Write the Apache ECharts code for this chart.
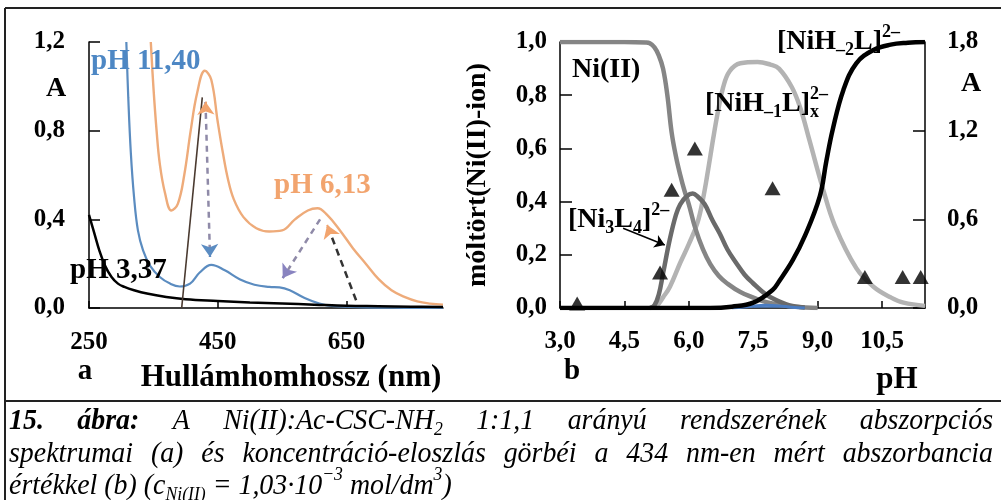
<!DOCTYPE html>
<html><head><meta charset="utf-8">
<script src="https://cdn.jsdelivr.net/npm/echarts@6/dist/echarts.min.js"></script>
<style>html,body{margin:0;padding:0;background:#fff}#c{width:1001px;height:500px}</style>
</head><body><div id="c"></div>
<script>
// ---------- DATA ----------
// (a) absorption spectra: wavelength (nm) and absorbance
const wl_pH337 = [250, 258, 266, 275, 285, 295, 305, 320, 340, 370, 400, 450, 500, 550, 600, 650, 700, 750, 800];
const A_pH337  = [0.42, 0.34, 0.26, 0.19, 0.14, 0.11, 0.095, 0.08, 0.065, 0.05, 0.04, 0.032, 0.025, 0.02, 0.015, 0.01, 0.008, 0.006, 0.005];

const wl_pH1140 = [308, 311, 315, 320, 326, 334, 345, 360, 376, 391, 407, 422, 440, 461, 484, 507, 530, 546, 562, 585, 608, 631, 680, 740, 800];
const A_pH1140  = [1.2, 0.95, 0.7, 0.5, 0.35, 0.26, 0.19, 0.14, 0.11, 0.097, 0.11, 0.16, 0.195, 0.17, 0.13, 0.105, 0.095, 0.093, 0.08, 0.045, 0.02, 0.008, 0.003, 0.001, 0];

const wl_pH613 = [346, 350, 355, 360, 368, 378, 388, 398, 408, 418, 430, 440, 450, 458, 466, 475, 490, 510, 530, 550, 570, 590, 605, 620, 640, 660, 680, 700, 720, 740, 760, 780, 800];
const A_pH613  = [1.2, 1.0, 0.8, 0.65, 0.52, 0.44, 0.47, 0.6, 0.8, 0.97, 1.07, 1.03, 0.84, 0.7, 0.58, 0.49, 0.41, 0.36, 0.345, 0.35, 0.4, 0.44, 0.45, 0.42, 0.35, 0.27, 0.2, 0.13, 0.08, 0.05, 0.03, 0.02, 0.015];

const wl_steep = [394, 426];
const A_steep  = [0, 0.95];

// annotation arrows (data coordinates: [nm, A])
const arrowVertical = [[431, 0.93], [438, 0.23]];   // orange head top, blue head bottom
const arrowDiagonal = [[609, 0.40], [551, 0.135]];  // purple dashed, head at lower-left
const arrowDark     = [[665, 0.035], [620, 0.375]]; // dark dashed, orange head at top

// (b) distribution curves: pH and mole fraction
const pH_NiII = [3.0, 4.5, 5.0, 5.09, 5.2, 5.3, 5.4, 5.5, 5.6, 5.7, 5.8, 5.9, 6.0, 6.15, 6.33, 6.5, 6.7, 6.88, 7.2, 7.65, 8.0, 8.5, 9.0];
const x_NiII  = [1.0, 1.0, 0.998, 0.995, 0.98, 0.95, 0.9, 0.8, 0.66, 0.57, 0.5, 0.44, 0.39, 0.3, 0.22, 0.165, 0.12, 0.094, 0.06, 0.03, 0.015, 0.005, 0];

const pH_NiH1L = [5.1, 5.26, 5.4, 5.56, 5.8, 6.0, 6.2, 6.33, 6.45, 6.56, 6.68, 6.8, 6.95, 7.2, 7.6, 7.9, 8.1, 8.4, 8.6, 8.81, 9.12, 9.4, 9.9, 10.3, 10.7, 11.0, 11.5];
const x_NiH1L  = [0, 0.01, 0.04, 0.08, 0.17, 0.24, 0.32, 0.41, 0.52, 0.63, 0.74, 0.83, 0.89, 0.92, 0.925, 0.915, 0.9, 0.83, 0.75, 0.63, 0.45, 0.31, 0.15, 0.08, 0.04, 0.02, 0.008];

const pH_Ni3L4 = [5.1, 5.2, 5.3, 5.4, 5.56, 5.7, 5.8, 5.95, 6.09, 6.2, 6.37, 6.55, 6.72, 6.9, 7.1, 7.3, 7.49, 7.8, 8.1, 8.35, 8.7];
const x_Ni3L4  = [0, 0.01, 0.05, 0.13, 0.26, 0.35, 0.39, 0.42, 0.43, 0.42, 0.39, 0.33, 0.28, 0.22, 0.17, 0.125, 0.094, 0.05, 0.025, 0.01, 0.002];

const pH_NiH2L = [3.0, 6.5, 7.0, 7.5, 7.95, 8.1, 8.42, 8.7, 9.05, 9.2, 9.35, 9.6, 9.9, 10.3, 10.7, 11.1, 11.5];
const x_NiH2L  = [0, 0, 0.005, 0.02, 0.068, 0.1, 0.18, 0.27, 0.42, 0.55, 0.67, 0.82, 0.92, 0.97, 0.99, 0.997, 1.0];

const pH_minor = [7.0, 7.4, 7.8, 8.1, 8.4, 8.7];
const x_minor  = [0, 0.006, 0.01, 0.008, 0.003, 0];

// absorbance at 434 nm (right axis)
const pH_A434 = [3.4, 5.33, 5.6, 6.14, 7.95, 10.1, 10.98, 11.4];
const A_434   = [0.03, 0.24, 0.80, 1.08, 0.81, 0.21, 0.21, 0.21];

const labelArrow = [[4.47, 0.30], [5.44, 0.237]];

// axis ticks
const wlTicks = [250, 450, 650];

// ---------- helpers ----------
const FONT = '"Liberation Serif", "Times New Roman", serif';
const zip = (a, b) => a.map((v, i) => [v, b[i]]);
const comma1 = v => v.toFixed(1).replace('.', ',');
const ctx2d = document.createElement('canvas').getContext('2d');
const fstr = (size, weight, style) => (style || 'normal') + ' ' + (weight || 'bold') + ' ' + size + 'px ' + FONT;
const measure = (t, f) => { ctx2d.font = f; return ctx2d.measureText(t).width; };

function runLayout(segs, o) {
  const S = o.size, s = o.small || Math.round(S * 0.62), sx = o.sx || 1;
  let cx = 0; const items = [];
  segs.forEach(sg => {
    const k = sg.k || 'n';
    const size = k === 'n' ? S : s;
    const dy = k === 'sub' ? 0.3 * S : (k === 'sup' ? -0.36 * S : 0);
    const f = fstr(size, sg.w || o.weight, sg.st || o.style);
    const w = measure(sg.t, f) * sx;
    items.push({ t: sg.t, f, x: cx, dy });
    if (!sg.noAdv) cx += w;
  });
  return { items, width: cx };
}
function runEls(segs, x, yc, o) {
  const L = runLayout(segs, o);
  let x0 = x;
  if (o.align === 'center') x0 = x - L.width / 2;
  else if (o.align === 'right') x0 = x - L.width;
  return L.items.map(it => ({
    type: 'text', silent: true, z: 100, x: x0 + it.x, y: yc + it.dy, scaleX: o.sx || 1,
    style: { text: it.t, font: it.f, fill: o.color || '#000', align: 'left', verticalAlign: 'middle',
             textAlign: 'left', textVerticalAlign: 'middle' }
  }));
}
function justify(words, L, R, yc, o) {
  const ws = words.map(w => runLayout(w, o).width);
  const total = ws.reduce((a, b) => a + b, 0);
  const gap = (R - L - total) / (words.length - 1);
  let x = L; const els = [];
  words.forEach((w, i) => { els.push(...runEls(w, x, yc, o)); x += ws[i] + gap; });
  return els;
}
function headNear(tip, tail, f) { return [tip[0] + (tail[0] - tip[0]) * f, tip[1] + (tail[1] - tip[1]) * f]; }
function seg(p0, p1, color, width, type, s0, s1, size) {
  return [
    { coord: p0, symbol: s0 || 'none', symbolSize: size || 12 },
    { coord: p1, symbol: s1 || 'none', symbolSize: size || 12, lineStyle: { color, width, type: type || 'solid' } }
  ];
}

// ---------- graphics (texts & frame) ----------
const G = [];
const frame = { stroke: '#222', lineWidth: 2 };
G.push({ type: 'line', silent: true, shape: { x1: 5, y1: 8, x2: 1001, y2: 8 }, style: frame });
G.push({ type: 'line', silent: true, shape: { x1: 5, y1: 8, x2: 5, y2: 500 }, style: frame });
G.push({ type: 'line', silent: true, shape: { x1: 5, y1: 401, x2: 1001, y2: 401 }, style: frame });

const BLUE = '#4d87c4', ORANGE = '#f2a46e';
// panel a
G.push(...runEls([{ t: 'pH 11,40' }], 91, 62, { size: 29, color: BLUE }));
G.push(...runEls([{ t: 'pH 6,13' }], 274, 186, { size: 29, color: ORANGE }));
G.push(...runEls([{ t: 'pH 3,37' }], 70, 271, { size: 29, color: '#000' }));
G.push(...runEls([{ t: 'A' }], 56, 89, { size: 28, align: 'center' }));
G.push(...runEls([{ t: 'a' }], 85, 372, { size: 29, align: 'center' }));
G.push(...runEls([{ t: 'Hullámhomhossz (nm)' }], 291, 378, { size: 31, align: 'center' }));
// panel b
G.push(...runEls([{ t: 'A' }], 971, 84, { size: 28, align: 'center' }));
G.push(...runEls([{ t: 'b' }], 572, 372, { size: 29, align: 'center' }));
G.push(...runEls([{ t: 'pH' }], 897, 380, { size: 31, align: 'center' }));
G.push({ type: 'text', silent: true, z: 100, x: 478, y: 175, rotation: Math.PI / 2,
  style: { text: 'móltört(Ni(II)-ion)', font: fstr(28), fill: '#000', align: 'center', verticalAlign: 'middle',
           textAlign: 'center', textVerticalAlign: 'middle' } });
const chem = { size: 28, small: 18 };
G.push(...runEls([{ t: 'Ni(II)' }], 572, 70, chem));
G.push(...runEls([{ t: '[NiH' }, { t: '–2', k: 'sub' }, { t: 'L]' }, { t: '2–', k: 'sup' }], 777, 42, chem));
G.push(...runEls([{ t: '[NiH' }, { t: '–1', k: 'sub' }, { t: 'L]' }, { t: 'x', k: 'sub', noAdv: true }, { t: '2–', k: 'sup' }], 705, 104, chem));
G.push(...runEls([{ t: '[Ni' }, { t: '3', k: 'sub' }, { t: 'L' }, { t: '4', k: 'sub' }, { t: ']' }, { t: '2–', k: 'sup' }], 568, 220, chem));

// caption
const cap = { size: 30, small: 19, weight: 'normal', style: 'italic', sx: 0.93 };
const line1 = [
  [{ t: '15.', w: 'bold' }], [{ t: 'ábra:', w: 'bold' }], [{ t: 'A' }],
  [{ t: 'Ni(II):Ac-CSC-NH' }, { t: '2', k: 'sub' }], [{ t: '1:1,1' }], [{ t: 'arányú' }],
  [{ t: 'rendszerének' }], [{ t: 'abszorpciós' }]
];
G.push(...justify(line1, 9, 993, 421, cap));
const line2 = 'spektrumai (a) és koncentráció-eloszlás görbéi a 434 nm-en mért abszorbancia'.split(' ').map(w => [{ t: w }]);
G.push(...justify(line2, 9, 993, 454, cap));
G.push(...runEls([
  { t: 'értékkel (b) (c' }, { t: 'Ni(II)', k: 'sub' }, { t: ' = 1,03·10' }, { t: '−3', k: 'sup' },
  { t: ' mol/dm' }, { t: '3', k: 'sup' }, { t: ')' }
], 9, 486, cap));

// ---------- chart ----------
const axisText = { fontFamily: FONT, fontWeight: 'bold', fontSize: 25, color: '#000' };
const axLine = { show: true, lineStyle: { color: '#000', width: 1.5 } };
const lineS = (name, xi, yi, data, color, width, extra) => Object.assign({
  name, type: 'line', xAxisIndex: xi, yAxisIndex: yi, data, showSymbol: false, symbol: 'none',
  smooth: 0.4, lineStyle: { color, width }, itemStyle: { color }, silent: true
}, extra || {});

const purple = '#8f8aa8';
const markArrows = {
  silent: true, animation: false, label: { show: false }, emphasis: { disabled: true },
  data: [
    seg(arrowVertical[0], arrowVertical[1], purple, 2.5, [6, 5]),
    seg(headNear(arrowVertical[0], arrowVertical[1], 0.05), arrowVertical[0], ORANGE, 2, 'solid', 'none', 'arrow', 13),
    seg(headNear(arrowVertical[1], arrowVertical[0], 0.05), arrowVertical[1], '#5b8cc2', 2, 'solid', 'none', 'arrow', 13),
    seg(arrowDiagonal[0], arrowDiagonal[1], purple, 2.5, [6, 5]),
    seg(headNear(arrowDiagonal[1], arrowDiagonal[0], 0.06), arrowDiagonal[1], '#8984c0', 2, 'solid', 'none', 'arrow', 13),
    seg(arrowDark[0], arrowDark[1], '#333', 2.5, [7, 5]),
    seg(headNear(arrowDark[1], arrowDark[0], 0.05), arrowDark[1], ORANGE, 2, 'solid', 'none', 'arrow', 13)
  ]
};
const markLabel = {
  silent: true, animation: false, label: { show: false }, emphasis: { disabled: true },
  data: [seg(labelArrow[0], labelArrow[1], '#000', 1.5, 'solid', 'none', 'arrow', 10)]
};

const option = {
  animation: false,
  backgroundColor: '#fff',
  grid: [
    { left: 89, top: 42, width: 354, height: 266 },
    { left: 560, top: 42, width: 365, height: 266 }
  ],
  xAxis: [
    { type: 'value', gridIndex: 0, min: 250, max: 800, interval: 200,
      axisLine: axLine, splitLine: { show: false },
      axisTick: { inside: true, length: 7, customValues: wlTicks, lineStyle: { color: '#000', width: 1.5 } },
      axisLabel: Object.assign({ margin: 22, showMaxLabel: true, showMinLabel: true, customValues: wlTicks, formatter: v => String(v) }, axisText) },
    { type: 'value', gridIndex: 1, min: 3, max: 11.5, interval: 1.5,
      axisLine: axLine, splitLine: { show: false },
      axisTick: { inside: true, length: 7, lineStyle: { color: '#000', width: 1.5 } },
      axisLabel: Object.assign({ margin: 21, showMaxLabel: false, formatter: comma1 }, axisText) }
  ],
  yAxis: [
    { type: 'value', gridIndex: 0, min: 0, max: 1.2, interval: 0.4,
      axisLine: axLine, splitLine: { show: false },
      axisTick: { inside: true, length: 11, lineStyle: { color: '#000', width: 1.5 } },
      axisLabel: Object.assign({ margin: 24, formatter: comma1 }, axisText) },
    { type: 'value', gridIndex: 1, min: 0, max: 1, interval: 0.2,
      axisLine: axLine, splitLine: { show: false },
      axisTick: { inside: true, length: 12, lineStyle: { color: '#000', width: 1.5 } },
      axisLabel: Object.assign({ margin: 13, formatter: comma1 }, axisText) },
    { type: 'value', gridIndex: 1, position: 'right', min: 0, max: 1.8, interval: 0.6,
      axisLine: axLine, splitLine: { show: false },
      axisTick: { inside: true, length: 12, lineStyle: { color: '#000', width: 1.5 } },
      axisLabel: Object.assign({ margin: 22, formatter: comma1 }, axisText) }
  ],
  series: [
    lineS('pH 6,13', 0, 0, zip(wl_pH613, A_pH613), '#eeab7a', 2.4),
    lineS('pH 11,40', 0, 0, zip(wl_pH1140, A_pH1140), '#5b8cc0', 2.2),
    lineS('pH 3,37', 0, 0, zip(wl_pH337, A_pH337), '#000', 2.5),
    lineS('steep', 0, 0, zip(wl_steep, A_steep), '#4a3a30', 1.6, { smooth: false, markLine: markArrows }),

    lineS('[NiH-1L]x', 1, 1, zip(pH_NiH1L, x_NiH1L), '#b3b3b3', 4.5),
    lineS('Ni(II)', 1, 1, zip(pH_NiII, x_NiII), '#858585', 4.5),
    lineS('[Ni3L4]', 1, 1, zip(pH_Ni3L4, x_Ni3L4), '#6a6a6a', 4.5, { markLine: markLabel }),
    lineS('minor', 1, 1, zip(pH_minor, x_minor), '#4a7cc2', 3, { areaStyle: { color: '#4a7cc2' } }),
    lineS('[NiH-2L]', 1, 1, zip(pH_NiH2L, x_NiH2L), '#000', 4.5),
    { name: 'A434', type: 'scatter', xAxisIndex: 1, yAxisIndex: 2, data: zip(pH_A434, A_434),
      symbol: 'triangle', symbolSize: [16, 14], itemStyle: { color: '#000' }, silent: true, z: 5 }
  ],
  graphic: { elements: G }
};

const chart = echarts.init(document.getElementById('c'), null, { renderer: 'canvas' });
chart.setOption(option);
</script></body></html>
